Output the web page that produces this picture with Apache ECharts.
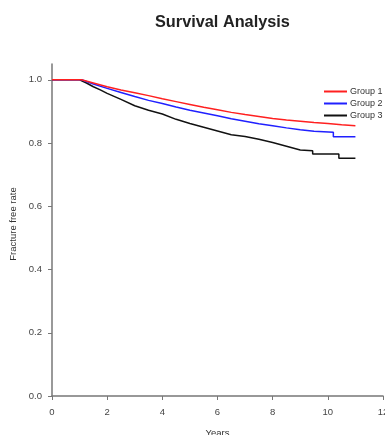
<!DOCTYPE html>
<html>
<head>
<meta charset="utf-8">
<script src="https://cdn.jsdelivr.net/npm/echarts@6/dist/echarts.min.js"></script>
<style>
  html, body { margin: 0; padding: 0; background: #fff; }
  #chart { width: 385px; height: 435px; }
</style>
</head>
<body>
<div id="chart"></div>
<script>
// Kaplan-Meier style curves
const group1Years = [0, 1.07, 1.5, 2.0, 2.5, 3.0, 3.5, 4.0, 4.5, 5.0, 5.5, 6.0, 6.5, 7.0, 7.5, 8.0, 8.5, 9.0, 9.5, 10.0, 10.5, 11.0];
const group1Rate  = [1.0, 1.0, 0.99, 0.978, 0.968, 0.959, 0.95, 0.94, 0.931, 0.922, 0.913, 0.905, 0.897, 0.89, 0.884, 0.878, 0.873, 0.869, 0.865, 0.862, 0.858, 0.855];

const group2Years = [0, 1.07, 1.5, 2.0, 2.5, 3.0, 3.5, 4.0, 4.5, 5.0, 5.5, 6.0, 6.5, 7.0, 7.5, 8.0, 8.5, 9.0, 9.5, 10.2, 10.2, 11.0];
const group2Rate  = [1.0, 1.0, 0.987, 0.973, 0.96, 0.947, 0.935, 0.925, 0.914, 0.904, 0.895, 0.886, 0.877, 0.869, 0.861, 0.855, 0.848, 0.842, 0.837, 0.834, 0.82, 0.82];

const group3Years = [0, 1.0, 1.25, 1.5, 1.75, 2.0, 2.5, 3.0, 3.5, 4.0, 4.5, 5.0, 5.5, 6.0, 6.5, 7.0, 7.5, 8.0, 8.5, 9.0, 9.45, 9.45, 10.4, 10.4, 11.0];
const group3Rate  = [1.0, 1.0, 0.99, 0.978, 0.968, 0.957, 0.938, 0.918, 0.904, 0.892, 0.875, 0.862, 0.85, 0.838, 0.826, 0.821, 0.812, 0.802, 0.79, 0.778, 0.776, 0.765, 0.765, 0.752, 0.752];

const groupNames = ['Group 1', 'Group 2', 'Group 3'];
const groupColors = ['#ff2020', '#2020ff', '#111111'];
const yTicks = [0, 0.2, 0.4, 0.6, 0.8, 1.0];
const xTicks = [0, 2, 4, 6, 8, 10, 12];

const pairs = (xs, ys) => xs.map((x, i) => [x, ys[i]]);
const groupData = [
  pairs(group1Years, group1Rate),
  pairs(group2Years, group2Rate),
  pairs(group3Years, group3Rate),
];

const font = '"Liberation Sans", Arial, sans-serif';
const axisColor = '#777';
const small = 9.5;

const chart = echarts.init(document.getElementById('chart'));
chart.setOption({
  animation: false,
  backgroundColor: '#fff',
  textStyle: { fontFamily: font },
  title: {
    text: 'Survival Analysis',
    left: 150,
    top: 10,
    textStyle: { fontSize: 16.3, fontWeight: 'bold', color: '#222', fontFamily: font }
  },
  legend: {
    data: groupNames,
    orient: 'vertical',
    left: 319,
    top: 82,
    itemWidth: 23,
    itemHeight: 2,
    itemGap: 3,
    icon: 'rect',
    textStyle: { fontSize: 9, color: '#333', padding: [0, 0, 0, -2] }
  },
  grid: { left: 52, right: 2, top: 64, bottom: 39, outerBoundsMode: 'none' },
  xAxis: {
    type: 'value',
    min: 0,
    max: 12,
    interval: 2,
    name: 'Years',
    nameLocation: 'middle',
    nameGap: 32,
    nameTextStyle: { fontSize: small, color: '#333' },
    axisLine: { lineStyle: { color: axisColor, width: 1.5 } },
    axisTick: { show: true, length: 4, lineStyle: { color: axisColor }, customValues: xTicks },
    axisLabel: { fontSize: small, color: '#444', margin: 11, customValues: xTicks },
    splitLine: { show: false }
  },
  yAxis: {
    type: 'value',
    min: 0,
    max: 1.05,
    name: 'Fracture free rate',
    nameLocation: 'middle',
    nameRotate: 90,
    nameGap: 33,
    nameTextStyle: { fontSize: small, color: '#333', padding: [0, 0, 0, 12] },
    axisLine: { show: true, lineStyle: { color: axisColor, width: 1.5 } },
    axisTick: { show: true, length: 4, lineStyle: { color: axisColor }, customValues: yTicks },
    axisLabel: {
      fontSize: small, color: '#444', margin: 10, customValues: yTicks,
      formatter: v => v.toFixed(1)
    },
    splitLine: { show: false }
  },
  series: groupNames.map((name, i) => ({
    name: name,
    type: 'line',
    data: groupData[i],
    showSymbol: false,
    color: groupColors[i],
    lineStyle: { width: 1.5, color: groupColors[i] },
    z: 3 - i
  }))
});
</script>
</body>
</html>
